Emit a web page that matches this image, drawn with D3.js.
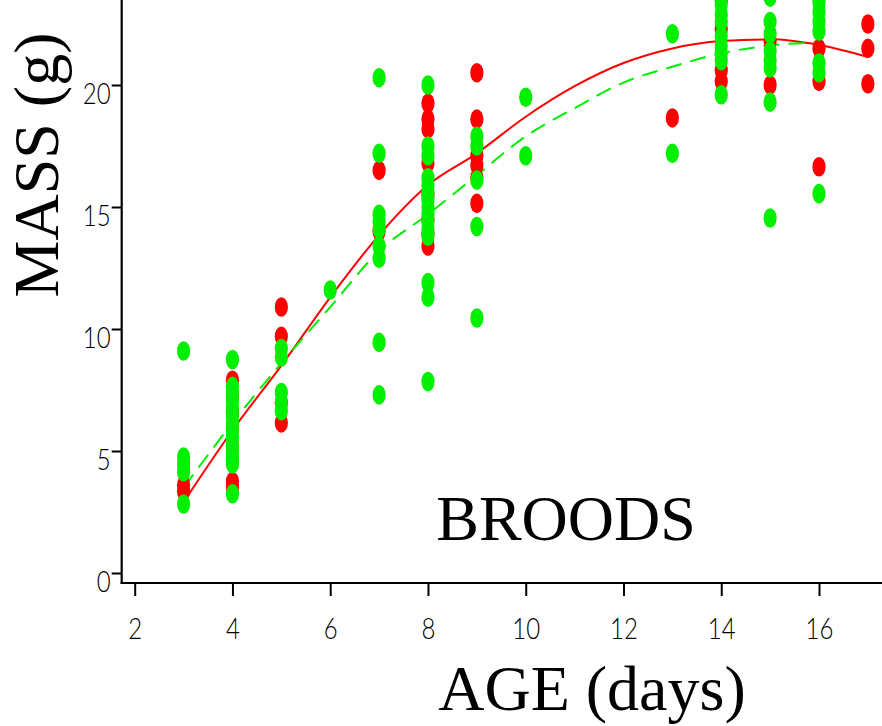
<!DOCTYPE html>
<html><head><meta charset="utf-8">
<script src="https://cdn.jsdelivr.net/npm/d3@7"></script>
<style>
html,body{margin:0;padding:0;background:#fff;}
svg{display:block;}
</style></head>
<body>
<svg id="chart" width="882" height="726"></svg>
<script>
// ---- data ----
const xTicks = [2, 4, 6, 8, 10, 12, 14, 16];
const yTicks = [0, 5, 10, 15, 20];

const redAge  = [3,3, 4,4,4,4,4,4,4,4, 5,5,5,5, 7,7, 8,8,8,8,8,8,8,8, 9,9,9,9,9,9, 13, 14,14,14,14, 15,15, 16,16,16, 17,17,17];
const redMass = [3.6,3.35, 7.9,7.3,6.6,5.9,5.2,4.6,3.75,3.5, 10.9,9.7,7.0,6.15, 16.5,14.0, 19.25,18.6,18.2,16.8,15.5,14.5,13.9,13.4, 20.5,18.6,17.1,16.7,16.2,15.15, 18.65, 23.5,22.3,20.6,20.15, 21.8,20.0, 21.5,20.15,16.65, 22.5,21.5,20.05];

const greenAge  = [3,3,3,3,3, 4,4,4,4,4,4,4,4,4,4,4,4,4,4, 5,5,5,5,5, 6, 7,7,7,7,7,7,7,7,7, 8,8,8,8,8,8,8,8,8,8,8,8,8,8,8, 9,9,9,9,9, 10,10, 13,13, 14,14,14,14,14,14,14,14, 15,15,15,15,15,15,15,15, 16,16,16,16,16,16,16];
const greenMass = [9.1,4.75,4.45,4.15,2.83, 8.75,7.65,7.35,7.05,6.75,6.45,6.15,5.85,5.55,5.25,4.95,4.7,4.47,3.25, 9.2,8.85,7.4,6.95,6.65, 11.6, 20.3,17.2,14.7,14.4,14.1,13.4,12.9,9.45,7.3, 20.0,17.5,17.1,16.2,15.9,15.6,15.3,15.0,14.7,14.4,14.1,13.8,11.9,11.3,7.85, 17.9,17.5,16.1,14.2,10.45, 19.5,17.1, 22.1,17.2, 23.3,22.9,22.6,22.0,21.6,21.3,21.0,19.6, 23.6,22.6,22.1,21.4,21.0,20.7,19.3,14.55, 23.4,23.0,22.6,22.2,20.9,20.5,15.55];

const redFitAge  = [3,4,5,6,7,8,9,10,11,12,13,14,15,16,17];
const redFit     = [2.9,5.85,8.5,11.3,13.85,15.9,17.2,18.7,19.95,20.9,21.5,21.8,21.87,21.64,21.15];
const greenFitAge = [3,4,5,6,7,8,9,10,11,12,13,14,15,16];
const greenFit    = [3.5,6.15,8.6,10.9,13.2,14.7,16.3,17.9,19.05,20.1,20.75,21.3,21.62,21.75];

// ---- chart ----
const svg = d3.select("#chart");
const x = d3.scaleLinear().domain([2, 16]).range([134.7, 819]);
const y = d3.scaleLinear().domain([0, 20]).range([573, 85]);
const axisX0 = 121.7, axisY0 = 583;
const RED = "#ff0000", GREEN = "#00f000";
const tickFont = "Lato,'Liberation Sans',Arial,sans-serif";
const TSX = 0.8; // horizontal condensing of tick labels
const serif = "'Liberation Serif','Times New Roman',serif";

// fit lines
const line = d3.line().x(d => x(d[0])).y(d => y(d[1])).curve(d3.curveMonotoneX);
svg.append("path")
  .attr("d", line(redFitAge.map((a, i) => [a, redFit[i]])))
  .attr("fill", "none").attr("stroke", RED).attr("stroke-width", 2);
svg.append("path")
  .attr("d", line(greenFitAge.map((a, i) => [a, greenFit[i]])))
  .attr("fill", "none").attr("stroke", GREEN).attr("stroke-width", 2)
  .attr("stroke-dasharray", "16,9");

// points
function dots(ages, masses, color) {
  svg.append("g").selectAll("ellipse")
    .data(ages.map((a, i) => [a, masses[i]]))
    .join("ellipse")
    .attr("cx", d => x(d[0])).attr("cy", d => y(d[1]))
    .attr("rx", 6.6).attr("ry", 9.8)
    .attr("fill", color);
}
dots(redAge, redMass, RED);
dots(greenAge, greenMass, GREEN);

// axes
const yAxis = d3.axisLeft(y).tickValues(yTicks).tickSize(10).tickPadding(1).tickFormat(d3.format("d"));
const gy = svg.append("g").attr("transform", `translate(${axisX0},0)`).call(yAxis);
gy.select(".domain").remove();
gy.selectAll(".tick line").attr("stroke", "#000").attr("stroke-width", 2);
gy.selectAll(".tick text").attr("font-family", tickFont).attr("font-weight", 300).attr("font-size", 30)
  .attr("fill", "#000").attr("dy", "0.61em")
  .attr("x", -11 / TSX).attr("transform", `scale(${TSX},1)`);

const xAxis = d3.axisBottom(x).tickValues(xTicks).tickSize(13).tickPadding(22).tickFormat(d3.format("d"));
const gx = svg.append("g").attr("transform", `translate(0,${axisY0})`).call(xAxis);
gx.select(".domain").remove();
gx.selectAll(".tick line").attr("stroke", "#000").attr("stroke-width", 2);
gx.selectAll(".tick text").attr("font-family", tickFont).attr("font-weight", 300).attr("font-size", 30).attr("fill", "#000")
  .attr("transform", `scale(${TSX},1)`);

svg.append("line").attr("x1", axisX0).attr("x2", axisX0).attr("y1", 0).attr("y2", axisY0 + 1)
  .attr("stroke", "#000").attr("stroke-width", 2.2);
svg.append("line").attr("x1", axisX0 - 1).attr("x2", 882).attr("y1", axisY0).attr("y2", axisY0)
  .attr("stroke", "#000").attr("stroke-width", 2.2);

// titles
svg.append("text").attr("x", 592).attr("y", 710).attr("text-anchor", "middle")
  .attr("font-family", serif).attr("font-size", 64).text("AGE (days)");
svg.append("text").attr("transform", "translate(58,165) rotate(-90)").attr("text-anchor", "middle")
  .attr("font-family", serif).attr("font-size", 64).text("MASS (g)");
svg.append("text").attr("x", 566).attr("y", 540).attr("text-anchor", "middle")
  .attr("font-family", serif).attr("font-size", 64).text("BROODS");
</script>
</body></html>
